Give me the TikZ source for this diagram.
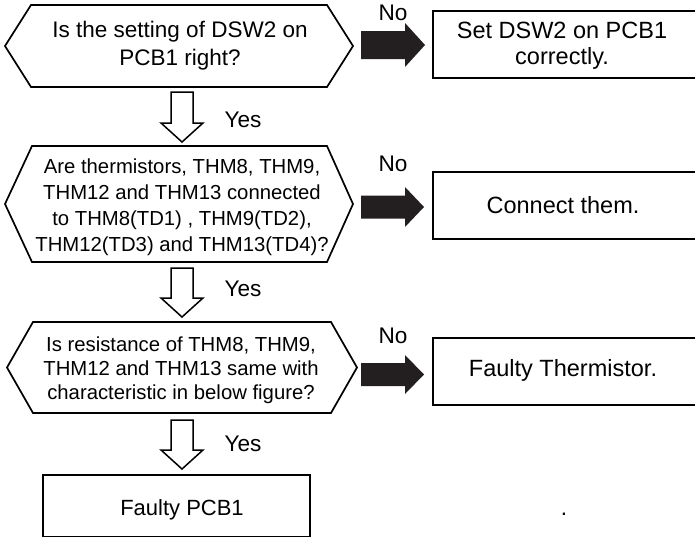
\documentclass[tikz,border=0pt]{standalone}
\usepackage{fontspec}
\setmainfont{Liberation Sans}
\definecolor{arrowblack}{RGB}{35,31,32}
\begin{document}
\begin{tikzpicture}[x=1pt,y=-1pt,
  shapeline/.style={draw=black,line width=1.7pt,line join=miter},
  hollowarrow/.style={draw=black,line width=1.5pt,fill=white,line join=miter},
  blockarrow/.style={fill=arrowblack,draw=none},
  hextext/.style={align=center,inner sep=0pt,font=\fontsize{20.3}{26}\selectfont},
  boxtext/.style={align=center,inner sep=0pt,font=\fontsize{23.5}{26}\selectfont},
  lbl/.style={inner sep=0pt,anchor=base,font=\fontsize{22.6}{26}\selectfont}]
\useasboundingbox (0,0) rectangle (695,538);
\clip (0,0) rectangle (695,538);
% hexagons
\draw[shapeline] (5,46) -- (31,5) -- (327,5) -- (353,46) -- (327,87) -- (31,87) -- cycle;
\draw[shapeline] (5,204) -- (32,146) -- (327,146) -- (353,204) -- (327,262) -- (32,262) -- cycle;
\draw[shapeline] (7,367.5) -- (33,322) -- (331,322) -- (357,367.5) -- (331,413) -- (33,413) -- cycle;
% boxes
\draw[shapeline] (433,11) rectangle (705,78);
\draw[shapeline] (433,172) rectangle (705,239);
\draw[shapeline] (433,338) rectangle (705,405);
\draw[shapeline] (43,475) rectangle (310,536.5);
% texts
\node[hextext,font=\fontsize{22.5}{28}\selectfont] (q1) at (180,45.5) {Is the setting of DSW2 on\\PCB1 right?};
\node[hextext] (q2) at (182,207.5) {Are thermistors, THM8, THM9,\\THM12 and THM13 connected\\to THM8(TD1) , THM9(TD2),\\THM12(TD3) and THM13(TD4)?};
\node[hextext,font=\fontsize{20.3}{24}\selectfont] (q3) at (181,370.5) {Is resistance of THM8, THM9,\\THM12 and THM13 same with\\characteristic in below figure?};
\node[boxtext] (a1) at (562,46) {Set DSW2 on PCB1\\correctly.};
\node[boxtext,anchor=base] (a2) at (563,213) {Connect them.};
\node[boxtext,anchor=base] (a3) at (563,376) {Faulty Thermistor.};
\node[boxtext,anchor=base,font=\fontsize{22}{26}\selectfont] (a4) at (182,515) {Faulty PCB1};
\node[lbl] (dot) at (564,515) {.};
% labels
\node[lbl] (y1) at (243,127.7) {Yes};
\node[lbl] (y2) at (243,296.7) {Yes};
\node[lbl] (y3) at (243,451.7) {Yes};
\node[lbl] (n1) at (393,20.7) {No};
\node[lbl] (n2) at (393,171.7) {No};
\node[lbl] (n3) at (393,343.3) {No};
% hollow down arrows
\foreach \t/\h/\p in {92/123/142, 268/298/317, 420/450/469}{
  \draw[hollowarrow] (171,\t) -- (171,\h) -- (161,\h) -- (182,\p) -- (203,\h) -- (193,\h) -- (193,\t) -- cycle;
}
% block arrows
\fill[blockarrow] (361,31) -- (405,31) -- (405,23) -- (425,45) -- (405,67) -- (405,59) -- (361,59) -- cycle;
\fill[blockarrow] (361,195.5) -- (405,195.5) -- (405,187) -- (424,207) -- (405,227) -- (405,218.5) -- (361,218.5) -- cycle;
\fill[blockarrow] (361,363) -- (405,363) -- (405,355) -- (424,374.5) -- (405,394) -- (405,386) -- (361,386) -- cycle;
\end{tikzpicture}
\end{document}
